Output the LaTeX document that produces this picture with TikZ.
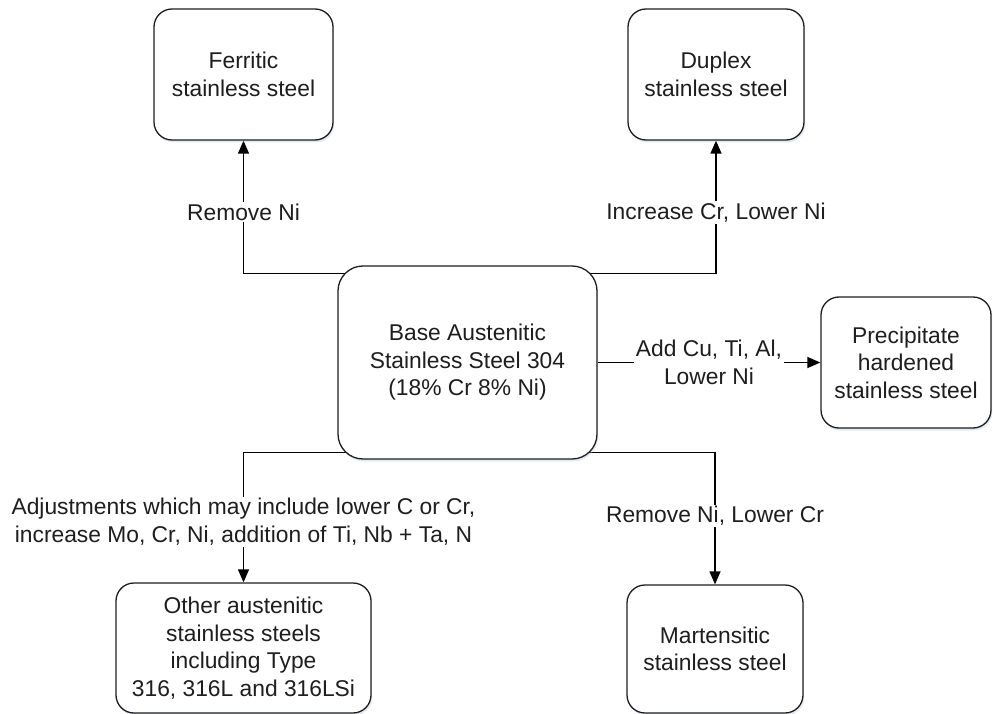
\documentclass[tikz,border=0pt]{standalone}
\usepackage{fontspec}
\setmainfont{Liberation Sans}
\usetikzlibrary{arrows.meta,calc,shadows}
\definecolor{inkgray}{RGB}{30,30,30}
\definecolor{shadowblue}{RGB}{175,195,225}
\pgfdeclarelayer{edges}
\pgfsetlayers{edges,main}
\begin{document}
\begin{tikzpicture}[x=1pt,y=-1pt,
  txt/.style={font=\fontsize{22.8}{27.5}\selectfont, text=inkgray, align=center},
  box/.style={txt, draw=inkgray, line width=1.3pt, fill=white,
    rounded corners=18pt, inner sep=0pt,
    drop shadow={shadow xshift=1.2pt, shadow yshift=-2.5pt, fill=shadowblue, opacity=0.35}},
  conn/.style={draw=black, line width=1.3pt, -{Triangle[length=13pt,width=11pt]}},
  lbl/.style={txt, fill=white, inner sep=1.5pt}
]
\useasboundingbox (0,0) rectangle (993,714);

% steel grades
\node[box, minimum width=179pt, minimum height=131pt] (fer) at (243.5,74.5) {Ferritic\\stainless steel};
\node[box, minimum width=176pt, minimum height=131pt] (dup) at (716,74.5) {Duplex\\stainless steel};
\node[box, rounded corners=25pt, minimum width=259pt, minimum height=193pt] (base) at (467.5,362.5)
  {Base Austenitic\\Stainless Steel 304\\(18\% Cr 8\% Ni)};
\node[box, minimum width=170pt, minimum height=131pt] (pre) at (906,362.5) {Precipitate\\hardened\\stainless steel};
\node[box, minimum width=255pt, minimum height=130pt] (oth) at (243.5,648)
  {Other austenitic\\stainless steels\\including Type\\316, 316L and 316LSi};
\node[box, minimum width=176pt, minimum height=128pt] (mar) at (715,649) {Martensitic\\stainless steel};

% composition changes
\begin{pgfonlayer}{edges}
\draw[conn] ([yshift=-8pt]base.north) -| node[lbl, pos=0.73] {Remove Ni} (fer.south);
\draw[conn] ([yshift=-8pt]base.north) -| node[lbl, pos=0.73] {Increase Cr, Lower Ni} (dup.south);
\draw[conn] (base.east) -- node[lbl] {Add Cu, Ti, Al,\\Lower Ni} (pre.west);
\draw[conn] ([yshift=7pt]base.south) -| node[lbl, pos=0.767]
  {Adjustments which may include lower C or Cr,\\increase Mo, Cr, Ni, addition of Ti, Nb + Ta, N} (oth.north);
\draw[conn] ([yshift=7pt]base.south) -| node[lbl, pos=0.74] {Remove Ni, Lower Cr} (mar.north);
\end{pgfonlayer}
\end{tikzpicture}
\end{document}
